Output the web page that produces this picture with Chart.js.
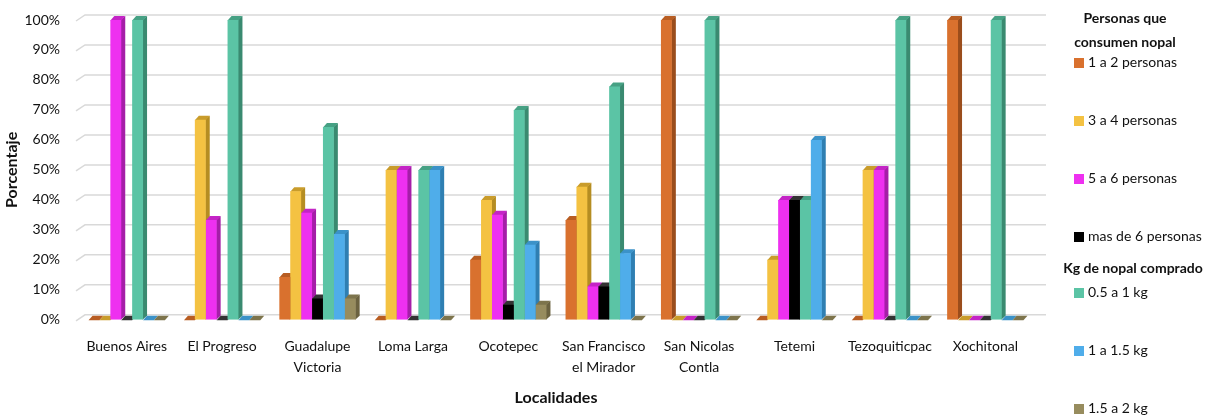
<!DOCTYPE html>
<html>
<head>
<meta charset="utf-8">
<script src="https://cdn.jsdelivr.net/npm/chart.js@4/dist/chart.umd.min.js"></script>
<style>
  body { margin: 0; background: #fff; font-family: Lato, sans-serif; }
  #wrap { position: relative; width: 1213px; height: 419px; }
  #legend { position: absolute; left: 1050px; top: 0; width: 163px; font-size: 14px; color: #111; }
  .head { position: absolute; font-weight: bold; text-align: center; line-height: 24px; }
  .item { position: absolute; left: 24px; white-space: nowrap; line-height: 16px; }
  .item span { display: inline-block; width: 10px; height: 10px; margin-right: 4px; vertical-align: -1px; }
</style>
</head>
<body>
<div id="wrap">
  <canvas id="myChart" width="1213" height="419"></canvas>
  <div id="legend"></div>
</div>
<script>
const localidades = ["Buenos Aires", "El Progreso", ["Guadalupe", "Victoria"], "Loma Larga", "Ocotepec",
  ["San Francisco", "el Mirador"], ["San Nicolas", "Contla"], "Tetemi", "Tezoquiticpac", "Xochitonal"];

const seriesNames = ["1 a 2 personas", "3 a 4 personas", "5 a 6 personas", "mas de 6 personas",
  "0.5 a 1 kg", "1 a 1.5 kg", "1.5 a 2 kg"];

const personas1a2 = [0, 0, 14.3, 0, 20, 33.3, 100, 0, 0, 100];
const personas3a4 = [0, 66.7, 42.9, 50, 40, 44.4, 0, 20, 50, 0];
const personas5a6 = [100, 33.3, 35.7, 50, 35, 11.1, 0, 40, 50, 0];
const personasMas6 = [0, 0, 7.1, 0, 5, 11.1, 0, 40, 0, 0];
const kg05a1 = [100, 100, 64.3, 50, 70, 77.8, 100, 40, 100, 100];
const kg1a15 = [0, 0, 28.6, 50, 25, 22.2, 0, 60, 0, 0];
const kg15a2 = [0, 0, 7.1, 0, 5, 0, 0, 0, 0, 0];

const yTicks = [0, 10, 20, 30, 40, 50, 60, 70, 80, 90, 100];

const colors = ["#d9712e", "#f4c242", "#ee30f0", "#000000", "#5bc4a5", "#4fadea", "#978c5e"];
const sideColors = ["#9a4d1c", "#b58d22", "#a51ea8", "#000000", "#3a8a70", "#2f7fb2", "#6b6240"];
const topColors = ["#b85d22", "#c99c2b", "#c424c6", "#333333", "#46a184", "#3b92c8", "#7d744c"];

const allSeries = [personas1a2, personas3a4, personas5a6, personasMas6, kg05a1, kg1a15, kg15a2];

// fake 3D: back-wall gridlines, then side and top faces drawn behind the bar bodies,
// so a neighbouring bar hides the part of a side face it stands in front of
const depth = 4;
const bars3d = {
  id: 'bars3d',
  beforeDatasetsDraw(chart) {
    const ctx = chart.ctx;
    const { left, right } = chart.chartArea;
    const yScale = chart.scales.y;
    const base = yScale.getPixelForValue(0);
    ctx.save();
    ctx.strokeStyle = '#d9d9d9';
    ctx.lineWidth = 1.5;
    yTicks.forEach(v => {
      const y = yScale.getPixelForValue(v);
      ctx.beginPath();
      ctx.moveTo(left - 3, y + 1);
      ctx.lineTo(left + 6, y - 5);
      ctx.lineTo(right + 13, y - 5);
      ctx.stroke();
    });
    const metas = chart.data.datasets.map((ds, i) => chart.getDatasetMeta(i));
    metas.forEach((meta, i) => {
      meta.data.forEach(bar => {
        const r = bar.x + bar.width / 2, t = bar.y;
        ctx.fillStyle = sideColors[i];
        ctx.beginPath();
        ctx.moveTo(r - 0.5, t); ctx.lineTo(r + depth, t - depth);
        ctx.lineTo(r + depth, base - depth); ctx.lineTo(r - 0.5, base);
        ctx.closePath(); ctx.fill();
      });
    });
    metas.forEach((meta, i) => {
      meta.data.forEach(bar => {
        const l = bar.x - bar.width / 2, r = bar.x + bar.width / 2, t = bar.y;
        ctx.fillStyle = topColors[i];
        ctx.beginPath();
        ctx.moveTo(l, t + 0.5); ctx.lineTo(l + depth, t - depth);
        ctx.lineTo(r + depth, t - depth); ctx.lineTo(r, t + 0.5);
        ctx.closePath(); ctx.fill();
      });
    });
    ctx.restore();
  }
};

new Chart(document.getElementById('myChart').getContext('2d'), {
  type: 'bar',
  data: {
    labels: localidades,
    datasets: allSeries.map((d, i) => ({
      label: seriesNames[i],
      data: d,
      backgroundColor: colors[i],
      borderWidth: 0,
      barPercentage: 1.0,
      categoryPercentage: 0.8
    }))
  },
  options: {
    responsive: false,
    animation: false,
    layout: { padding: { top: 20, right: 180, bottom: 8, left: 0 } },
    plugins: { legend: { display: false }, tooltip: { enabled: false } },
    scales: {
      x: {
        grid: { display: false },
        border: { display: false },
        ticks: { color: '#111', font: { family: 'Lato', size: 14, lineHeight: 1.5 }, maxRotation: 0, autoSkip: false, padding: 8 },
        title: { display: true, text: 'Localidades', color: '#111', font: { family: 'Lato', size: 16, weight: 'bold' }, padding: { top: 2 } }
      },
      y: {
        min: 0, max: 100,
        afterBuildTicks: axis => { axis.ticks = yTicks.map(v => ({ value: v })); },
        afterFit: axis => { axis.width = 79; },
        grid: { display: false },
        border: { display: false },
        ticks: { color: '#111', font: { family: 'Lato', size: 14 }, padding: 11, callback: v => v + '%' },
        title: { display: true, text: 'Porcentaje', color: '#111', font: { family: 'Lato', size: 16, weight: 'bold' }, padding: { top: 2, bottom: 2 } }
      }
    }
  },
  plugins: [bars3d]
});

// legend with the two group headings
const legend = document.getElementById('legend');
const headings = [
  { text: 'Personas que<br>consumen nopal', top: 6, left: 0, width: 150 },
  { text: 'Kg de nopal comprado', top: 256, left: 0, width: 166 }
];
headings.forEach(h => {
  const d = document.createElement('div');
  d.className = 'head';
  d.style.top = h.top + 'px'; d.style.left = h.left + 'px'; d.style.width = h.width + 'px';
  d.innerHTML = h.text;
  legend.appendChild(d);
});
const legendTops = [54, 112, 170, 228, 284, 342, 400];
seriesNames.forEach((n, i) => {
  const d = document.createElement('div');
  d.className = 'item'; d.style.top = legendTops[i] + 'px';
  d.innerHTML = '<span style="background:' + colors[i] + '"></span>' + n;
  legend.appendChild(d);
});
</script>
</body>
</html>
